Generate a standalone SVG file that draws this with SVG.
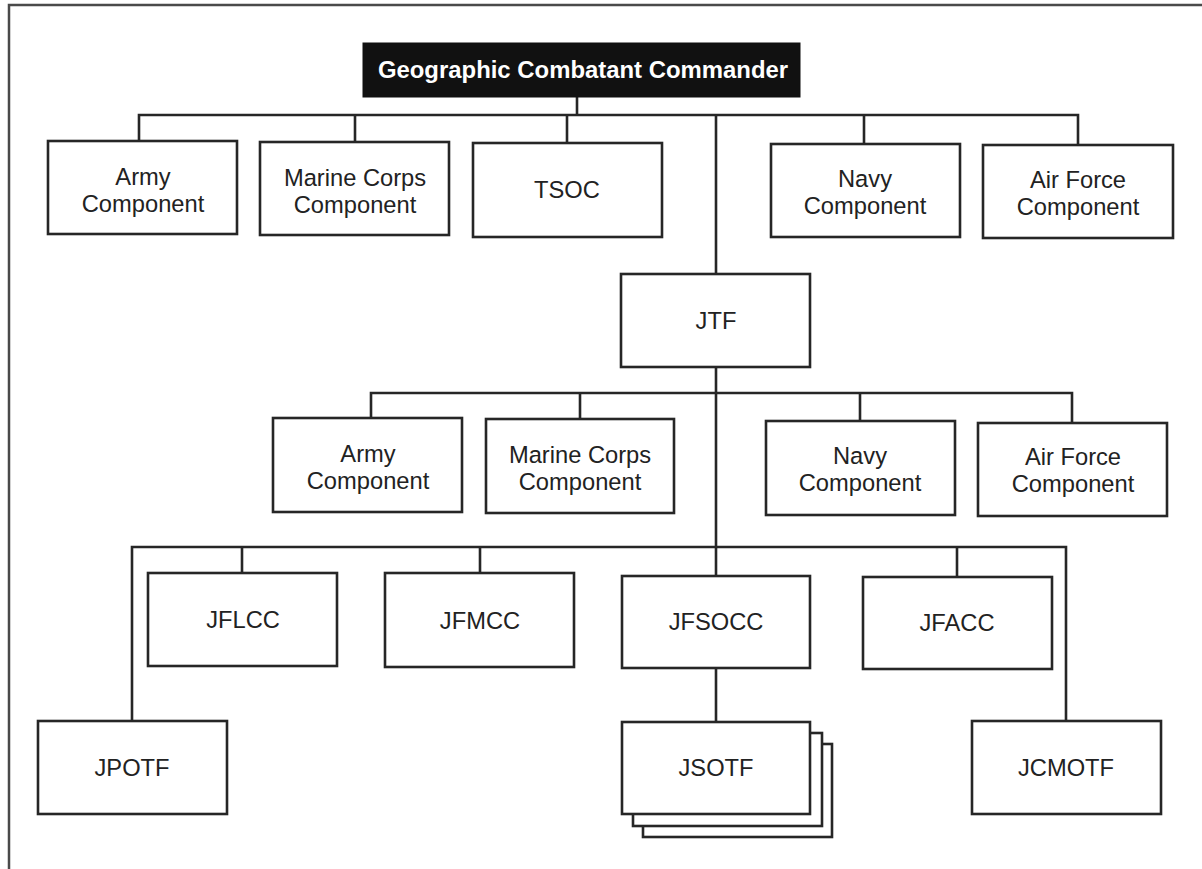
<svg xmlns="http://www.w3.org/2000/svg" width="1202" height="869" viewBox="0 0 1202 869">
  <style>
    .box { fill: #ffffff; stroke: #262626; stroke-width: 2.6; }
    .lbl { font-family: "Liberation Sans", Arial, sans-serif; font-size: 23.7px; fill: #222222; text-anchor: middle; }
    .head { font-family: "Liberation Sans", Arial, sans-serif; font-size: 23.9px; font-weight: bold; fill: #ffffff; text-anchor: middle; }
    .wire { fill: none; stroke: #262626; stroke-width: 2.6; stroke-linejoin: miter; }
    .frame { fill: none; stroke: #4a4a4a; stroke-width: 2.5; }
  </style>
  <rect width="1202" height="869" fill="#ffffff"/>

  <!-- page frame (top and left edges) -->
  <path class="frame" d="M9,869 V5 H1202"/>

  <!-- connectors -->
  <g id="connectors">
    <!-- commander to first tier -->
    <path class="wire" d="M577,97 V115"/>
    <path class="wire" d="M139,141 V115 H1078 V145"/>
    <path class="wire" d="M355,115 V142"/>
    <path class="wire" d="M567,115 V143"/>
    <path class="wire" d="M864,115 V144"/>
    <path class="wire" d="M716,115 V274"/>
    <!-- JTF to service components -->
    <path class="wire" d="M716,367 V547"/>
    <path class="wire" d="M371,418 V393 H1072 V423"/>
    <path class="wire" d="M580,393 V419"/>
    <path class="wire" d="M860,393 V421"/>
    <!-- JTF to functional components and task forces -->
    <path class="wire" d="M132,721 V547 H1066 V721"/>
    <path class="wire" d="M242,547 V573"/>
    <path class="wire" d="M480,547 V573"/>
    <path class="wire" d="M716,547 V576"/>
    <path class="wire" d="M957,547 V577"/>
    <path class="wire" d="M716,668 V722"/>
  </g>

  <g id="gcc">
    <rect x="363" y="43" width="437" height="54" fill="#111111" stroke="#111111" stroke-width="1"/>
    <text class="head" x="583" y="78">Geographic Combatant Commander</text>
  </g>

  <!-- first tier -->
  <g id="army1">
    <rect class="box" x="48" y="141" width="189" height="93"/>
    <text class="lbl" x="143" y="185">Army</text>
    <text class="lbl" x="143" y="212">Component</text>
  </g>
  <g id="marine1">
    <rect class="box" x="260" y="142" width="189" height="93"/>
    <text class="lbl" x="355" y="186">Marine Corps</text>
    <text class="lbl" x="355" y="213">Component</text>
  </g>
  <g id="tsoc">
    <rect class="box" x="473" y="143" width="189" height="94"/>
    <text class="lbl" x="567" y="198">TSOC</text>
  </g>
  <g id="navy1">
    <rect class="box" x="771" y="144" width="189" height="93"/>
    <text class="lbl" x="865" y="187">Navy</text>
    <text class="lbl" x="865" y="214">Component</text>
  </g>
  <g id="airforce1">
    <rect class="box" x="983" y="145" width="190" height="93"/>
    <text class="lbl" x="1078" y="188">Air Force</text>
    <text class="lbl" x="1078" y="215">Component</text>
  </g>

  <g id="jtf">
    <rect class="box" x="621" y="274" width="189" height="93"/>
    <text class="lbl" x="716" y="329">JTF</text>
  </g>

  <!-- JTF service components -->
  <g id="army2">
    <rect class="box" x="273" y="418" width="189" height="94"/>
    <text class="lbl" x="368" y="462">Army</text>
    <text class="lbl" x="368" y="489">Component</text>
  </g>
  <g id="marine2">
    <rect class="box" x="486" y="419" width="188" height="94"/>
    <text class="lbl" x="580" y="463">Marine Corps</text>
    <text class="lbl" x="580" y="490">Component</text>
  </g>
  <g id="navy2">
    <rect class="box" x="766" y="421" width="189" height="94"/>
    <text class="lbl" x="860" y="464">Navy</text>
    <text class="lbl" x="860" y="491">Component</text>
  </g>
  <g id="airforce2">
    <rect class="box" x="978" y="423" width="189" height="93"/>
    <text class="lbl" x="1073" y="465">Air Force</text>
    <text class="lbl" x="1073" y="492">Component</text>
  </g>

  <!-- functional components -->
  <g id="jflcc">
    <rect class="box" x="148" y="573" width="189" height="93"/>
    <text class="lbl" x="243" y="628">JFLCC</text>
  </g>
  <g id="jfmcc">
    <rect class="box" x="385" y="573" width="189" height="94"/>
    <text class="lbl" x="480" y="629">JFMCC</text>
  </g>
  <g id="jfsocc">
    <rect class="box" x="622" y="576" width="188" height="92"/>
    <text class="lbl" x="716" y="630">JFSOCC</text>
  </g>
  <g id="jfacc">
    <rect class="box" x="863" y="577" width="189" height="92"/>
    <text class="lbl" x="957" y="631">JFACC</text>
  </g>

  <!-- task forces -->
  <g id="jpotf">
    <rect class="box" x="38" y="721" width="189" height="93"/>
    <text class="lbl" x="132" y="776">JPOTF</text>
  </g>
  <g id="jsotf">
    <rect class="box" x="643" y="744" width="189" height="93"/>
    <rect class="box" x="633" y="733" width="189" height="93"/>
    <rect class="box" x="622" y="722" width="188" height="92"/>
    <text class="lbl" x="716" y="776">JSOTF</text>
  </g>
  <g id="jcmotf">
    <rect class="box" x="972" y="721" width="189" height="93"/>
    <text class="lbl" x="1066" y="776">JCMOTF</text>
  </g>
</svg>
